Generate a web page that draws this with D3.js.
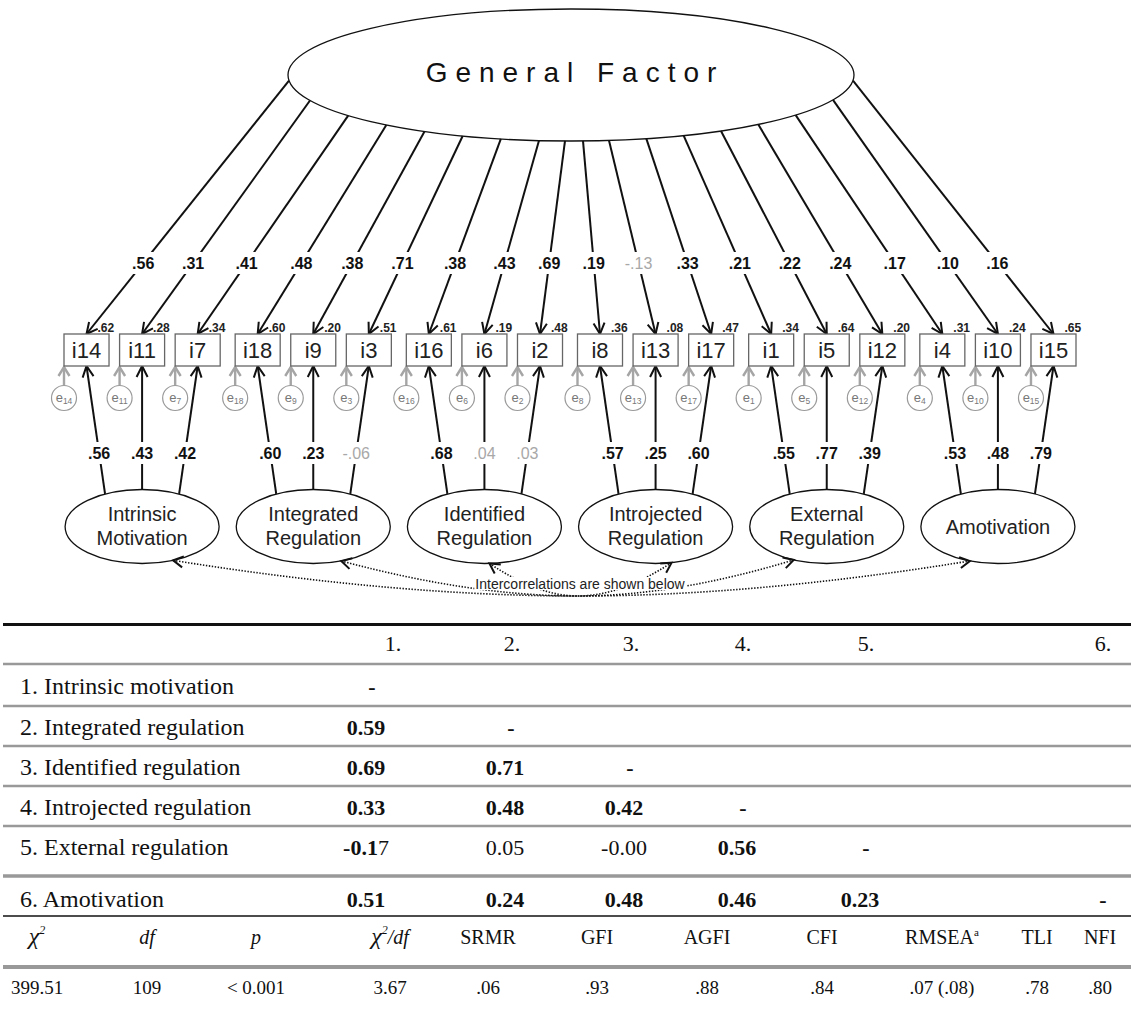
<!DOCTYPE html>
<html>
<head>
<meta charset="utf-8">
<script src="https://cdn.jsdelivr.net/npm/d3@7"></script>
<style>
body{margin:0;background:#fff;}
</style>
</head>
<body>
<div id="chart"></div>
<script>
// bifactor model: items, loadings, R2
let items = ["i14","i11","i7","i18","i9","i3","i16","i6","i2","i8","i13","i17","i1","i5","i12","i4","i10","i15"];
let generalLoadings = [0.56,0.31,0.41,0.48,0.38,0.71,0.38,0.43,0.69,0.19,-0.13,0.33,0.21,0.22,0.24,0.17,0.10,0.16];
let generalSig = [1,1,1,1,1,1,1,1,1,1,0,1,1,1,1,1,1,1];
let specificLoadings = [0.56,0.43,0.42,0.60,0.23,-0.06,0.68,0.04,0.03,0.57,0.25,0.60,0.55,0.77,0.39,0.53,0.48,0.79];
let specificSig = [1,1,1,1,1,0,1,0,0,1,1,1,1,1,1,1,1,1];
let rSquared = [0.62,0.28,0.34,0.60,0.20,0.51,0.61,0.19,0.48,0.36,0.08,0.47,0.34,0.64,0.20,0.31,0.24,0.65];
let factors = [["Intrinsic","Motivation"],["Integrated","Regulation"],["Identified","Regulation"],["Introjected","Regulation"],["External","Regulation"],["Amotivation"]];

// intercorrelation table
let corrLabels = ["1. Intrinsic motivation","2. Integrated regulation","3. Identified regulation","4. Introjected regulation","5. External regulation","6. Amotivation"];
let corrHeaders = ["1.","2.","3.","4.","5.","6."];
let corrValues = [[],["0.59"],["0.69","0.71"],["0.33","0.48","0.42"],["-0.17","0.05","-0.00","0.56"],["0.51","0.24","0.48","0.46","0.23"]];
let corrBold = [[],[1],[1,1],[1,1,1],[2,0,0,1],[1,1,1,1,1]];   // 2 = last digit not bold

// fit indices
let fitLabels = ["χ2","df","p","χ2/df","SRMR","GFI","AGFI","CFI","RMSEAa","TLI","NFI"];
let fitValues = ["399.51","109","< 0.001","3.67",".06",".93",".88",".84",".07 (.08)",".78",".80"];

const SANS = "'Liberation Sans', Arial, sans-serif";
const SERIF = "'Liberation Serif', 'Times New Roman', serif";

function fmt(v){
    return (v < 0 ? "-" : "") + Math.abs(v).toFixed(2).slice(1);
}

function configuration(){
    let width = 1131, height = 1013;
    let svg = d3.select("#chart").append("svg")
                .attr("width", width)
                .attr("height", height);
    let gf = {cx: 571, cy: 75, rx: 283, ry: 66};
    let boxTop = 334, boxH = 32;
    let latent = {cy: 526.5, rx: 77, ry: 37};
    let err = {cy: 398, r: 12.5};
    return {width, height, svg, gf, boxTop, boxH, latent, err};
}

function diagramScales(){
    let groupScale = d3.scaleBand()
                .domain(d3.range(factors.length))
                .range([64, 1076])
                .paddingInner(0.0875);
    let itemScale = d3.scaleBand()
                .domain(d3.range(3))
                .range([0, groupScale.bandwidth()])
                .paddingInner(0.19);
    // where each general-factor path leaves the big ellipse
    let startScale = d3.scaleLinear()
                .domain([0,1,7,8,9,10,16,17])
                .range([289,310,539,565,583,609,833,853]);
    let spreadScale = d3.scalePoint()
                .domain(d3.range(3))
                .range([-37, 37]);
    let boxX = i => groupScale(Math.floor(i/3)) + itemScale(i%3);
    let groupCx = j => groupScale(j) + groupScale.bandwidth()/2;
    return {groupScale, itemScale, startScale, spreadScale, boxX, groupCx, boxW: itemScale.bandwidth()};
}

function ellipseY(e, cx, x, sign){
    let k = (x - cx)/e.rx;
    return e.cy + sign*e.ry*Math.sqrt(Math.max(0, 1 - k*k));
}

function chevron(x, y, ang, len, half){
    let bx = x - len*Math.cos(ang), by = y - len*Math.sin(ang);
    let px = -Math.sin(ang)*half, py = Math.cos(ang)*half;
    return "M"+(bx+px)+","+(by+py)+"L"+x+","+y+"L"+(bx-px)+","+(by-py);
}

function pathLabel(g, x, y, text, sig, size){
    let t = g.append("text")
        .attr("x", x).attr("y", y).attr("dy", "0.36em")
        .attr("text-anchor", "middle")
        .style("font-family", SANS)
        .style("font-size", size+"px")
        .style("font-weight", sig ? "bold" : "normal")
        .style("fill", sig ? "#111" : "#a8a8a8")
        .text(text);
    let b = t.node().getBBox();
    g.insert("rect", function(){ return t.node(); })
        .attr("x", b.x - 2).attr("y", y - 11)
        .attr("width", b.width + 4).attr("height", 22)
        .style("fill", "#fff");
}

function drawDiagram(config, s){
    let {svg, gf, boxTop, boxH, latent, err} = config;
    let g = svg.append("g");
    let lines = g.append("g");
    let labels = g.append("g");
    let boxes = g.append("g");

    // general factor
    g.insert("ellipse", ":first-child")
        .attr("cx", gf.cx).attr("cy", gf.cy)
        .attr("rx", gf.rx).attr("ry", gf.ry)
        .style("fill", "#fff").style("stroke", "#111").style("stroke-width", 1.3);
    g.append("text")
        .attr("x", gf.cx + 4).attr("y", gf.cy + 7)
        .attr("text-anchor", "middle")
        .style("font-family", SANS).style("font-size", "28px")
        .style("letter-spacing", "8px").style("fill", "#111")
        .text("General Factor");

    items.forEach((name, i) => {
        let bx = s.boxX(i), cxb = bx + s.boxW/2;
        // general loading path
        let sx = s.startScale(i), sy = ellipseY(gf, gf.cx, sx, 1);
        let ang = Math.atan2(boxTop - sy, cxb - sx);
        lines.append("line")
            .attr("x1", sx).attr("y1", sy).attr("x2", cxb).attr("y2", boxTop)
            .style("stroke", "#111").style("stroke-width", 2);
        lines.append("path")
            .attr("d", chevron(cxb, boxTop, ang, 11, 5.5))
            .style("fill", "none").style("stroke", "#111").style("stroke-width", 2);
        let ly = 263, t = (ly - sy)/(boxTop - sy);
        pathLabel(labels, sx + t*(cxb - sx), ly, fmt(generalLoadings[i]), generalSig[i], 16);

        // specific loading path
        let j = Math.floor(i/3);
        let gx = s.groupCx(j);
        let lx = gx + s.spreadScale(i%3);
        let lyy = ellipseY(latent, gx, lx, -1);
        let by = boxTop + boxH;
        let ang2 = Math.atan2(by - lyy, cxb - lx);
        lines.append("line")
            .attr("x1", lx).attr("y1", lyy).attr("x2", cxb).attr("y2", by)
            .style("stroke", "#111").style("stroke-width", 2);
        lines.append("path")
            .attr("d", chevron(cxb, by, ang2, 11, 5.5))
            .style("fill", "none").style("stroke", "#111").style("stroke-width", 2);
        let sly = 453, t2 = (sly - by)/(lyy - by);
        pathLabel(labels, cxb + t2*(lx - cxb), sly, fmt(specificLoadings[i]), specificSig[i], 16);

        // error term
        lines.append("line")
            .attr("x1", bx).attr("y1", err.cy - err.r).attr("x2", bx).attr("y2", by + 1)
            .style("stroke", "#a5a5a5").style("stroke-width", 2.4);
        lines.append("path")
            .attr("d", chevron(bx, by + 1, -Math.PI/2, 9, 5.5))
            .style("fill", "none").style("stroke", "#a5a5a5").style("stroke-width", 2.4);
        boxes.append("circle")
            .attr("cx", bx).attr("cy", err.cy).attr("r", err.r)
            .style("fill", "#fff").style("stroke", "#9a9a9a").style("stroke-width", 1.2);
        let et = boxes.append("text")
            .attr("x", bx).attr("y", err.cy + 4)
            .attr("text-anchor", "middle")
            .style("font-family", SANS).style("fill", "#777");
        et.append("tspan").style("font-size", "13px").text("e");
        et.append("tspan").style("font-size", "8.5px").attr("dy", 1.5).text(name.slice(1));

        // item box
        boxes.append("rect")
            .attr("x", bx).attr("y", boxTop)
            .attr("width", s.boxW).attr("height", boxH)
            .style("fill", "#fff").style("stroke", "#666").style("stroke-width", 1.3);
        boxes.append("text")
            .attr("x", cxb).attr("y", boxTop + boxH/2 + 8)
            .attr("text-anchor", "middle")
            .style("font-family", SANS).style("font-size", "22px").style("fill", "#222")
            .text(name);
        boxes.append("text")
            .attr("x", cxb + 11).attr("y", boxTop - 2)
            .style("font-family", SANS).style("font-size", "12px")
            .style("font-weight", "bold").style("fill", "#222")
            .text(fmt(rSquared[i]));
    });

    // specific factors
    let hub = {x: 578, y: 596};
    let anchorOff = [31, 28, 5, 16, -33, -28];
    factors.forEach((lab, j) => {
        let gx = s.groupCx(j);
        boxes.append("ellipse")
            .attr("cx", gx).attr("cy", latent.cy)
            .attr("rx", latent.rx).attr("ry", latent.ry)
            .style("fill", "#fff").style("stroke", "#111").style("stroke-width", 1.3);
        let first = lab.length == 1 ? 7.5 : -5.5;
        lab.forEach((w, k) => {
            boxes.append("text")
                .attr("x", gx).attr("y", latent.cy + first + k*24)
                .attr("text-anchor", "middle")
                .style("font-family", SANS).style("font-size", "20px").style("fill", "#222")
                .text(w);
        });
        // correlation arrows
        let tx = gx + anchorOff[j], ty = ellipseY(latent, gx, tx, 1);
        let ctrl = {x: tx + (hub.x - tx)*0.55, y: hub.y};
        lines.append("path")
            .attr("d", "M"+tx+","+ty+"Q"+ctrl.x+","+ctrl.y+" "+hub.x+","+hub.y)
            .style("fill", "none").style("stroke", "#111")
            .style("stroke-width", 1.6).style("stroke-dasharray", "1.4,1.6");
        let a = Math.atan2(ty - ctrl.y, tx - ctrl.x);
        boxes.append("path")
            .attr("d", chevron(tx, ty, a, 10, 5.5))
            .style("fill", "none").style("stroke", "#111").style("stroke-width", 2);
    });
    let note = boxes.append("text")
        .attr("x", 580).attr("y", 589)
        .attr("text-anchor", "middle")
        .style("font-family", SANS).style("font-size", "14px").style("fill", "#222")
        .text("Intercorrelations are shown below");
    let nb = note.node().getBBox();
    boxes.insert("rect", function(){ return note.node(); })
        .attr("x", nb.x - 1).attr("y", nb.y + 1)
        .attr("width", nb.width + 2).attr("height", nb.height - 3)
        .style("fill", "#fff");
}

function drawTable(config){
    let {svg} = config;
    let g = svg.append("g").style("font-family", SERIF).style("fill", "#111");
    let headX = d3.scaleOrdinal().domain(d3.range(6)).range([393,512,631,743,866,1103]);
    let valX = d3.scaleOrdinal().domain(d3.range(6)).range([366,505,624,737,860,1097]);
    let rowY = d3.scaleOrdinal().domain(d3.range(6)).range([694,735,775,815,855,907]);
    let fitX = d3.scaleOrdinal().domain(d3.range(fitLabels.length))
                .range([37,147,256,390,488,597,707,822,942,1037,1100]);

    g.append("line").attr("x1", 3).attr("x2", 1131).attr("y1", 624.5).attr("y2", 624.5)
        .style("stroke", "#111").style("stroke-width", 3);
    [664, 706, 746, 786, 826].forEach(y => {
        g.append("line").attr("x1", 3).attr("x2", 1131).attr("y1", y).attr("y2", y)
            .style("stroke", "#999").style("stroke-width", 2.4);
    });
    g.append("line").attr("x1", 3).attr("x2", 1131).attr("y1", 876).attr("y2", 876)
        .style("stroke", "#999").style("stroke-width", 3.5);
    g.append("line").attr("x1", 3).attr("x2", 1131).attr("y1", 916).attr("y2", 916)
        .style("stroke", "#111").style("stroke-width", 1.6);
    g.append("line").attr("x1", 3).attr("x2", 1131).attr("y1", 967).attr("y2", 967)
        .style("stroke", "#999").style("stroke-width", 4);

    corrHeaders.forEach((h, k) => {
        g.append("text").attr("x", headX(k)).attr("y", 651)
            .attr("text-anchor", "middle").style("font-size", "22px").text(h);
    });
    corrLabels.forEach((lab, r) => {
        g.append("text").attr("x", 20).attr("y", rowY(r))
            .style("font-size", "24px").text(lab);
        corrValues[r].forEach((v, c) => {
            let t = g.append("text").attr("x", valX(c)).attr("y", rowY(r))
                .attr("text-anchor", "middle").style("font-size", "22px");
            let b = corrBold[r][c];
            if(b == 2){
                t.append("tspan").style("font-weight", "bold").text(v.slice(0, -1));
                t.append("tspan").text(v.slice(-1));
            } else {
                t.style("font-weight", b ? "bold" : "normal").text(v);
            }
        });
        g.append("text").attr("x", valX(r) + 6).attr("y", rowY(r))
            .attr("text-anchor", "middle").style("font-size", "22px")
            .style("font-weight", "bold").text("-");
    });

    fitLabels.forEach((lab, k) => {
        let t = g.append("text").attr("x", fitX(k)).attr("y", 944)
            .attr("text-anchor", "middle").style("font-size", "20px");
        if(lab == "χ2"){
            t.style("font-style", "italic");
            t.append("tspan").style("font-size", "24px").text("χ");
            t.append("tspan").attr("dy", -10).style("font-size", "12px").text("2");
        } else if(lab == "χ2/df"){
            t.style("font-style", "italic");
            t.append("tspan").style("font-size", "24px").text("χ");
            t.append("tspan").attr("dy", -10).style("font-size", "12px").text("2");
            t.append("tspan").attr("dy", 10).text("/df");
        } else if(lab == "RMSEAa"){
            t.append("tspan").text("RMSEA");
            t.append("tspan").attr("dy", -8).style("font-size", "11px").text("a");
        } else if(lab == "df" || lab == "p"){
            t.style("font-style", "italic").text(lab);
        } else {
            t.text(lab);
        }
        g.append("text").attr("x", fitX(k)).attr("y", 994)
            .attr("text-anchor", "middle").style("font-size", "19px")
            .text(fitValues[k]);
    });
}

let config = configuration();
let s = diagramScales();
drawDiagram(config, s);
drawTable(config);
</script>
</body>
</html>
